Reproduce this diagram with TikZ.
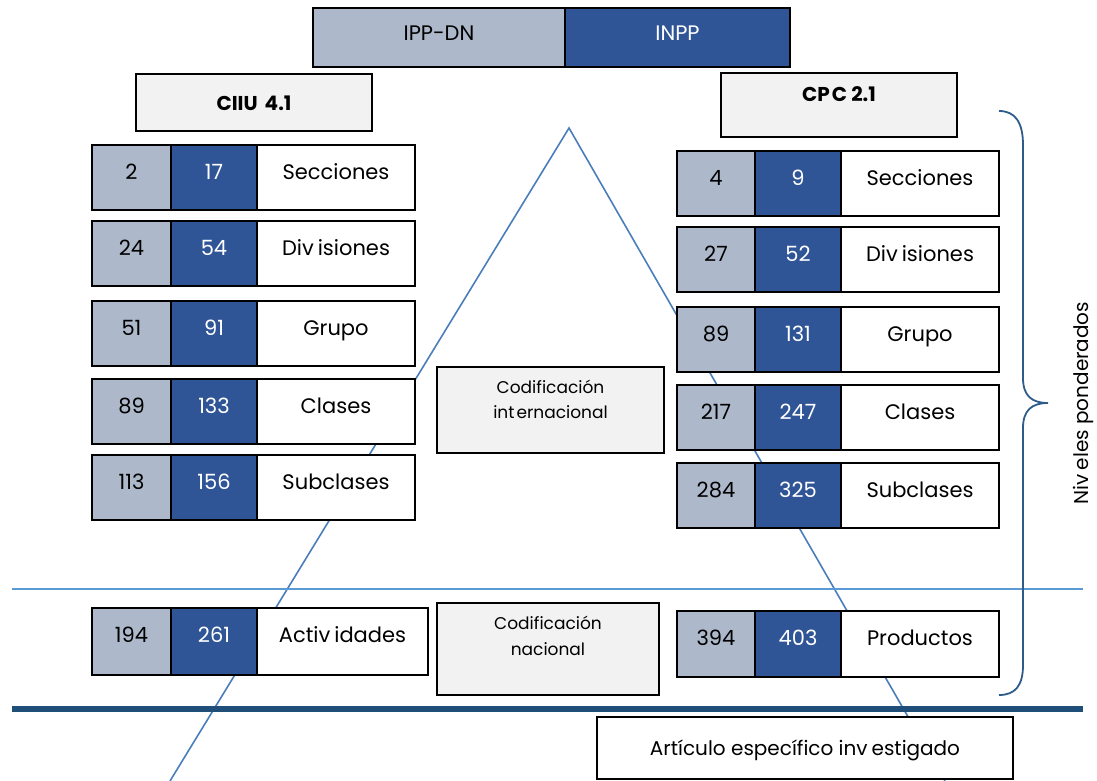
\documentclass[tikz,border=0pt]{standalone}
\usepackage{fontspec}
\setmainfont{Poppins}
\definecolor{ippgrey}{HTML}{ADB9CA}
\definecolor{inppblue}{HTML}{2F5597}
\definecolor{boxgrey}{HTML}{F2F2F2}
\definecolor{rulethin}{HTML}{5B9BD5}
\definecolor{rulethick}{HTML}{1F4E79}
\definecolor{triline}{HTML}{4A7EBB}
\definecolor{bracecol}{HTML}{2E5C8A}
\tikzset{
  cell/.style={draw, line width=1.5pt, anchor=north west, outer sep=0pt,
    inner xsep=0pt, inner ysep=0pt, minimum height=65pt,
    text height=34pt, text depth=31pt, font=\fontsize{21}{25}\selectfont},
  lo/.style={cell, fill=ippgrey, minimum width=#1},
  hi/.style={cell, fill=inppblue, text=white, minimum width=#1},
  lab/.style={cell, fill=white, minimum width=#1},
  greybox/.style={draw, line width=1.5pt, fill=boxgrey, anchor=north west,
    outer sep=0pt, inner sep=0pt},
  tri/.style={draw=triline, line width=1.6pt},
}
\begin{document}
\begin{tikzpicture}[x=1pt,y=-1pt]
  \useasboundingbox (0,0) rectangle (1097,781);
  % triangle behind everything
  \coordinate (apex) at (569,128);
  \coordinate (lfoot) at (170,781);
  \coordinate (rfoot) at (945,781);
  \draw[tri] (lfoot) -- (apex) -- (rfoot);
  \draw[rulethin, line width=2pt] (12,589) -- (1083,589);
  \draw[rulethick, line width=6pt] (12,709) -- (1083,709);
  % headers
  \node[lo=252, minimum height=59pt, text height=33pt, text depth=26pt] (ippdn) at (313,8) {IPP-DN};
  \node[hi=225, minimum height=59pt, text height=33pt, text depth=26pt] (inpp) at (565,8) {INPP};
  \node[greybox, minimum width=236pt, minimum height=57pt, text height=37pt, text depth=20pt,
    font=\bfseries\fontsize{20}{24}\selectfont] (ciiu) at (136,74) {CIIU\kern7pt 4.1};
  \node[greybox, minimum width=236pt, minimum height=64pt, text height=29pt, text depth=35pt,
    font=\bfseries\fontsize{20}{24}\selectfont] (cpc) at (721,73) {CP\kern2pt C 2.1};
  % CIIU rows
  \node[lo=79] (l1a) at (92,145) {2};
  \node[hi=86] (l1b) at (171,145) {17};
  \node[lab=158] (l1c) at (257,145) {Secciones};
  \node[lo=79] (l2a) at (92,221) {24};
  \node[hi=86] (l2b) at (171,221) {54};
  \node[lab=158] (l2c) at (257,221) {Div\kern4pt isiones};
  \node[lo=79] (l3a) at (92,301) {51};
  \node[hi=86] (l3b) at (171,301) {91};
  \node[lab=158] (l3c) at (257,301) {Grupo};
  \node[lo=79] (l4a) at (92,379) {89};
  \node[hi=86] (l4b) at (171,379) {133};
  \node[lab=158] (l4c) at (257,379) {Clases};
  \node[lo=79] (l5a) at (92,455) {113};
  \node[hi=86] (l5b) at (171,455) {156};
  \node[lab=158] (l5c) at (257,455) {Subclases};
  \node[lo=79, text depth=33pt] (l6a) at (92,608) {194};
  \node[hi=86, text depth=33pt] (l6b) at (171,608) {261};
  \node[lab=171, text depth=33pt] (l6c) at (257,608) {Activ\kern4pt idades};
  % CPC rows
  \node[lo=78] (r1a) at (677,151) {4};
  \node[hi=86] (r1b) at (755,151) {9};
  \node[lab=158] (r1c) at (841,151) {Secciones};
  \node[lo=78] (r2a) at (677,227) {27};
  \node[hi=86] (r2b) at (755,227) {52};
  \node[lab=158] (r2c) at (841,227) {Div\kern4pt isiones};
  \node[lo=78] (r3a) at (677,307) {89};
  \node[hi=86] (r3b) at (755,307) {131};
  \node[lab=158] (r3c) at (841,307) {Grupo};
  \node[lo=78] (r4a) at (677,385) {217};
  \node[hi=86] (r4b) at (755,385) {247};
  \node[lab=158] (r4c) at (841,385) {Clases};
  \node[lo=78] (r5a) at (677,463) {284};
  \node[hi=86] (r5b) at (755,463) {325};
  \node[lab=158] (r5c) at (841,463) {Subclases};
  \node[lo=78, text depth=32pt] (r6a) at (677,611) {394};
  \node[hi=86, text depth=32pt] (r6b) at (755,611) {403};
  \node[lab=158, text depth=32pt] (r6c) at (841,611) {Productos};
  % middle notes
  \node[greybox, minimum width=227pt, text height=26pt, text depth=60pt,
    font=\fontsize{17}{25}\selectfont] (intl) at (437,367)
    {\begin{tabular}[t]{@{}c@{}}Codificación\\int\kern2pt ernacional\end{tabular}};
  \node[greybox, minimum width=222pt, text height=26pt, text depth=66pt,
    font=\fontsize{17}{26}\selectfont] (nac) at (437,603)
    {\begin{tabular}[t]{@{}c@{}}Codificación\\nacional\end{tabular}};
  \node[lab=416, minimum height=62pt, text height=38pt, text depth=24pt,
    font=\fontsize{20}{24}\selectfont] (art) at (597,717) {Artículo específico inv\kern4pt estigado};
  % brace
  \draw[bracecol, line width=1.8pt] (999,111) .. controls (1015,111) and (1023,122) .. (1023,145)
    -- (1023,378) .. controls (1023,396) and (1032,403) .. (1048,403)
    .. controls (1032,403) and (1023,410) .. (1023,428)
    -- (1023,665) .. controls (1023,686) and (1015,695) .. (999,695);
  \node[rotate=90, font=\fontsize{20}{24}\selectfont] (niv) at (1083,403) {Niv\kern4pt eles ponderados};
\end{tikzpicture}
\end{document}
